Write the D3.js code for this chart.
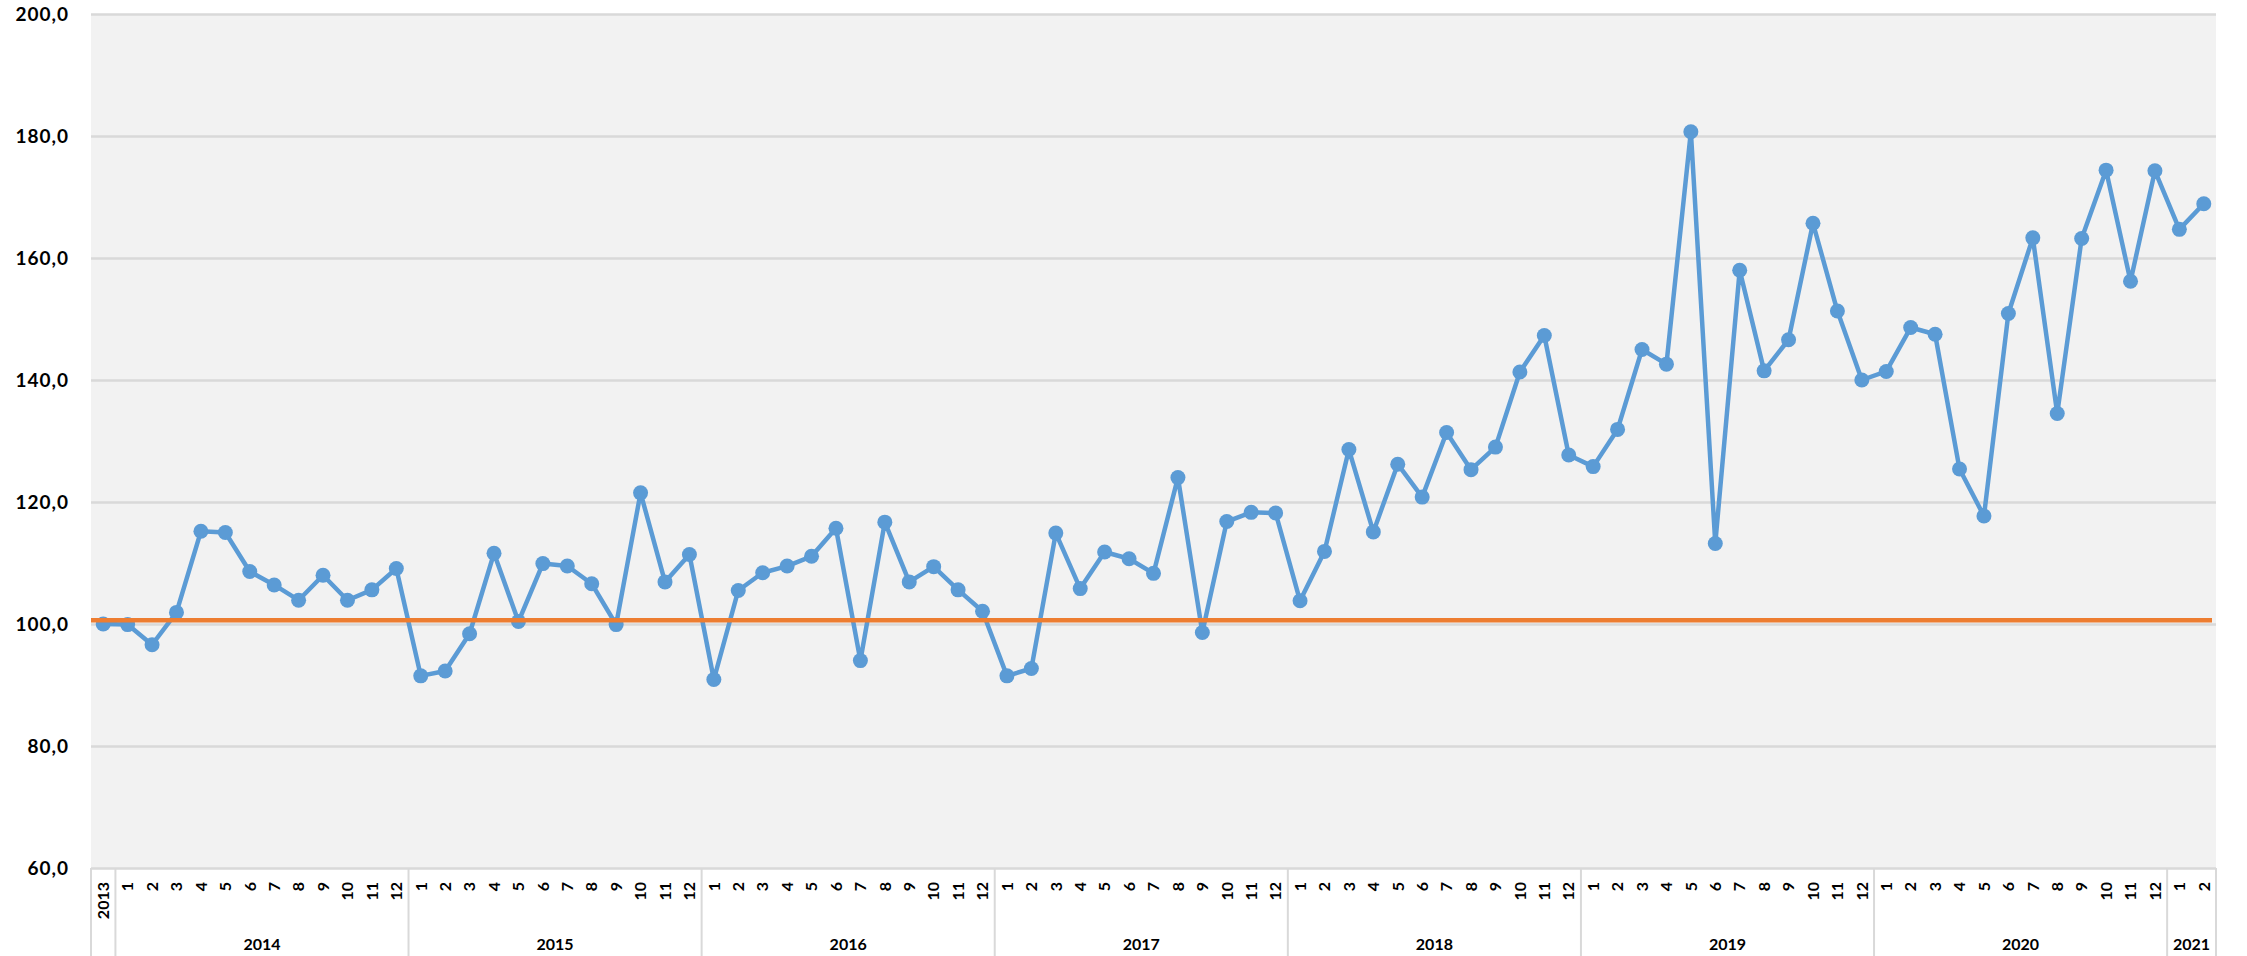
<!DOCTYPE html>
<html>
<head>
<meta charset="utf-8">
<script src="https://cdn.jsdelivr.net/npm/d3@7"></script>
<style>
  body { margin: 0; background: #ffffff; }
  svg { display: block; }
  text { font-family: "Lato", "Open Sans", sans-serif; font-weight: 700; fill: #000000; }
</style>
</head>
<body>
<div id="CHARTviz"></div>
<script>
// monthly index values, one array per year
var values2013 = [100.0];
var values2014 = [99.9, 96.6, 101.9, 115.2, 115.0, 108.6, 106.4, 103.9, 108.0, 103.9, 105.6, 109.1];
var values2015 = [91.5, 92.3, 98.4, 111.6, 100.4, 109.9, 109.5, 106.6, 99.9, 121.5, 106.9, 111.4];
var values2016 = [90.9, 105.5, 108.4, 109.5, 111.1, 115.7, 94.0, 116.7, 106.9, 109.4, 105.6, 102.1];
var values2017 = [91.5, 92.7, 114.9, 105.8, 111.8, 110.7, 108.3, 124.0, 98.6, 116.8, 118.3, 118.2];
var values2018 = [103.8, 111.9, 128.6, 115.1, 126.2, 120.8, 131.4, 125.3, 129.0, 141.3, 147.3, 127.7];
var values2019 = [125.8, 131.9, 145.0, 142.6, 180.7, 113.2, 158.0, 141.5, 146.6, 165.7, 151.3, 140.0];
var values2020 = [141.4, 148.6, 147.5, 125.4, 117.7, 150.9, 163.3, 134.5, 163.2, 174.4, 156.2, 174.3];
var values2021 = [164.7, 168.9];

var yearLabels = ["2013", "2014", "2015", "2016", "2017", "2018", "2019", "2020", "2021"];
var monthLabels = ["1", "2", "3", "4", "5", "6", "7", "8", "9", "10", "11", "12"];
var yTicks = [60, 80, 100, 120, 140, 160, 180, 200];
var baseLevel = 100.6;

var yearValues = [values2013, values2014, values2015, values2016, values2017,
                  values2018, values2019, values2020, values2021];

// flatten into categories; 2013 only has its year shown in the month row
var Chart_data = [];
var groups = [];
yearValues.forEach(function(vals, gi) {
    var start = Chart_data.length;
    vals.forEach(function(v, mi) {
        Chart_data.push({
            key: yearLabels[gi] + "-" + (mi + 1),
            month: gi === 0 ? yearLabels[gi] : monthLabels[mi],
            value: v
        });
    });
    groups.push({ year: gi === 0 ? "" : yearLabels[gi], start: start, end: Chart_data.length });
});

var W = 2247, H = 956;
var Chart_margin = { top: 14, right: 31, bottom: 88, left: 91 };
var Chart_width = W - Chart_margin.left - Chart_margin.right;
var Chart_height = H - Chart_margin.top - Chart_margin.bottom;

var svg = d3.select("#CHARTviz")
    .append("svg")
    .attr("width", W)
    .attr("height", H)
    .append("g")
    .attr("transform", "translate(" + Chart_margin.left + "," + Chart_margin.top + ")");

var x = d3.scaleBand()
    .domain(Chart_data.map(function(d) { return d.key; }))
    .range([0, Chart_width])
    .padding(0);

var y = d3.scaleLinear()
    .domain([60, 200])
    .range([Chart_height, 0]);

// plot background
svg.append("rect")
    .attr("width", Chart_width)
    .attr("height", Chart_height)
    .attr("fill", "#f2f2f2");

// y axis with gridlines
var locale = d3.formatLocale({ decimal: ",", thousands: ".", grouping: [3], currency: ["", ""] });
var yAxis = d3.axisLeft(y)
    .tickValues(yTicks)
    .tickSize(-Chart_width)
    .tickPadding(22)
    .tickFormat(locale.format(".1f"));

var YAXIS = svg.append("g").call(yAxis);
YAXIS.select(".domain").remove();
YAXIS.selectAll(".tick line").attr("stroke", "#d9d9d9").attr("stroke-width", 2.5);
YAXIS.selectAll(".tick text")
    .style("font-size", "19px")
    .style("letter-spacing", "1px")
    .attr("dy", "0.36em");

// category separators below the axis
var bounds = [0];
groups.forEach(function(g) { bounds.push(g.end); });
svg.append("g")
    .selectAll("line")
    .data(bounds)
    .enter()
    .append("line")
    .attr("x1", function(i) { return i * x.bandwidth(); })
    .attr("x2", function(i) { return i * x.bandwidth(); })
    .attr("y1", Chart_height)
    .attr("y2", H - Chart_margin.top)
    .attr("stroke", "#d9d9d9")
    .attr("stroke-width", 2);

// month labels, rotated
svg.append("g")
    .selectAll("text")
    .data(Chart_data)
    .enter()
    .append("text")
    .attr("transform", function(d) {
        return "translate(" + (x(d.key) + x.bandwidth() / 2) + "," + (Chart_height + 14) + ") rotate(-90)";
    })
    .attr("text-anchor", "end")
    .attr("dy", "0.36em")
    .style("font-size", "16px")
    .text(function(d) { return d.month; });

// year labels
svg.append("g")
    .selectAll("text")
    .data(groups.filter(function(g) { return g.year !== ""; }))
    .enter()
    .append("text")
    .attr("x", function(g) { return (g.start + g.end) / 2 * x.bandwidth(); })
    .attr("y", Chart_height + 82)
    .attr("text-anchor", "middle")
    .style("font-size", "16px")
    .text(function(g) { return g.year; });

// data line and markers
var line = d3.line()
    .x(function(d) { return x(d.key) + x.bandwidth() / 2; })
    .y(function(d) { return y(d.value); });

svg.append("path")
    .datum(Chart_data)
    .attr("d", line)
    .attr("fill", "none")
    .attr("stroke", "#5b9bd5")
    .attr("stroke-width", 4.5)
    .attr("stroke-linejoin", "round");

svg.append("g")
    .selectAll("circle")
    .data(Chart_data)
    .enter()
    .append("circle")
    .attr("cx", function(d) { return x(d.key) + x.bandwidth() / 2; })
    .attr("cy", function(d) { return y(d.value); })
    .attr("r", 7.5)
    .attr("fill", "#5b9bd5");

// reference level
svg.append("line")
    .attr("x1", 0)
    .attr("x2", Chart_width - 4)
    .attr("y1", y(baseLevel))
    .attr("y2", y(baseLevel))
    .attr("stroke", "#ed7d31")
    .attr("stroke-width", 4.5);
</script>
</body>
</html>
